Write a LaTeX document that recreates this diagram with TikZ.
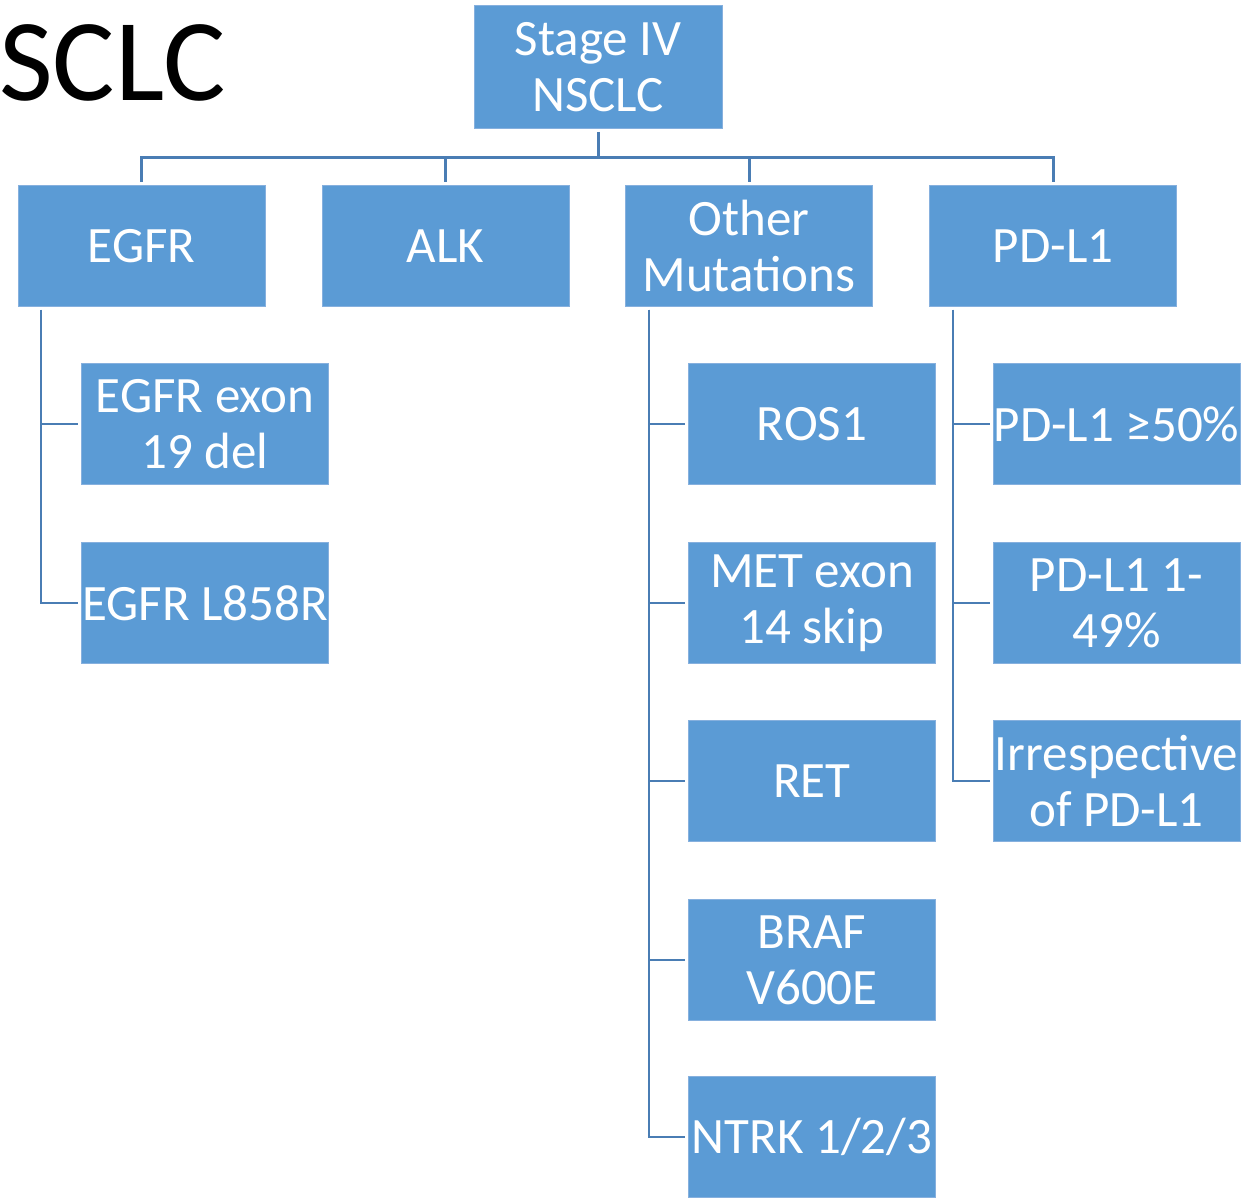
\documentclass[tikz,border=0pt]{standalone}
\usepackage{fontspec}
\setmainfont{Carlito}
\definecolor{boxfill}{HTML}{5B9BD5}
\definecolor{boxedge}{HTML}{86B0DE}
\definecolor{wire}{HTML}{4A7DB4}
\tikzset{
  box/.style={rectangle, fill=boxfill, draw=boxedge, line width=0.8pt,
    minimum width=247pt, minimum height=121pt, inner sep=0pt,
    text=white, align=center, font=\fontsize{51}{56}\selectfont},
  bus/.style={draw=wire, line width=3pt},
  branch/.style={draw=wire, line width=2.2pt, shorten <=3pt, shorten >=3pt},
}
\begin{document}
\begin{tikzpicture}[x=1pt,y=-1pt]
\useasboundingbox (0,0) rectangle (1242,1197);

% title
\node[anchor=base west, inner sep=0pt, font=\fontsize{117}{130}\selectfont] (title) at (-1,100) {SCLC};

% root and first level
\node[box, minimum width=248pt, minimum height=123pt] (root) at (598,67) {Stage IV\\NSCLC};
\node[box] (egfr)  at (141.5,246) {EGFR};
\node[box] (alk)   at (445.5,246) {ALK};
\node[box] (other) at (749,246)   {Other\\Mutations};
\node[box] (pdl)   at (1053,246)  {PD-L1};

% EGFR subtypes
\node[box] (e19)  at (205,424) {EGFR exon\\19 del};
\node[box] (l858) at (205,603) {EGFR L858R};

% other driver mutations
\node[box] (ros1) at (812,424)  {ROS1};
\node[box] (met)  at (812,603)  {MET exon\\14 skip};
\node[box] (ret)  at (812,781)  {RET};
\node[box] (braf) at (812,960)  {BRAF\\V600E};
\node[box] (ntrk) at (812,1137) {NTRK 1/2/3};

% PD-L1 expression levels
\node[box] (p50)  at (1116.5,424) {PD-L1 ≥50\%};
\node[box] (p149) at (1116.5,603) {PD-L1 1-\\49\%};
\node[box] (pirr) at (1116.5,781) {Irrespective\\of PD-L1};

% top-level bus
\coordinate (hub) at (598,157);
\draw[bus, shorten <=3pt] (root.south) -- (hub);
\draw[bus, line cap=rect] (egfr.north |- hub) -- (pdl.north |- hub);
\foreach \n in {egfr,alk,other,pdl}
  \draw[bus, shorten >=3pt] (\n.north |- hub) -- (\n.north);

% side branches
\foreach \n in {e19,l858}
  \draw[branch] ([xshift=23pt]egfr.south west) |- (\n.west);

\foreach \n in {ros1,met,ret,braf,ntrk}
  \draw[branch] ([xshift=24pt]other.south west) |- (\n.west);

\foreach \n in {p50,p149,pirr}
  \draw[branch] ([xshift=24pt]pdl.south west) |- (\n.west);
\end{tikzpicture}
\end{document}
